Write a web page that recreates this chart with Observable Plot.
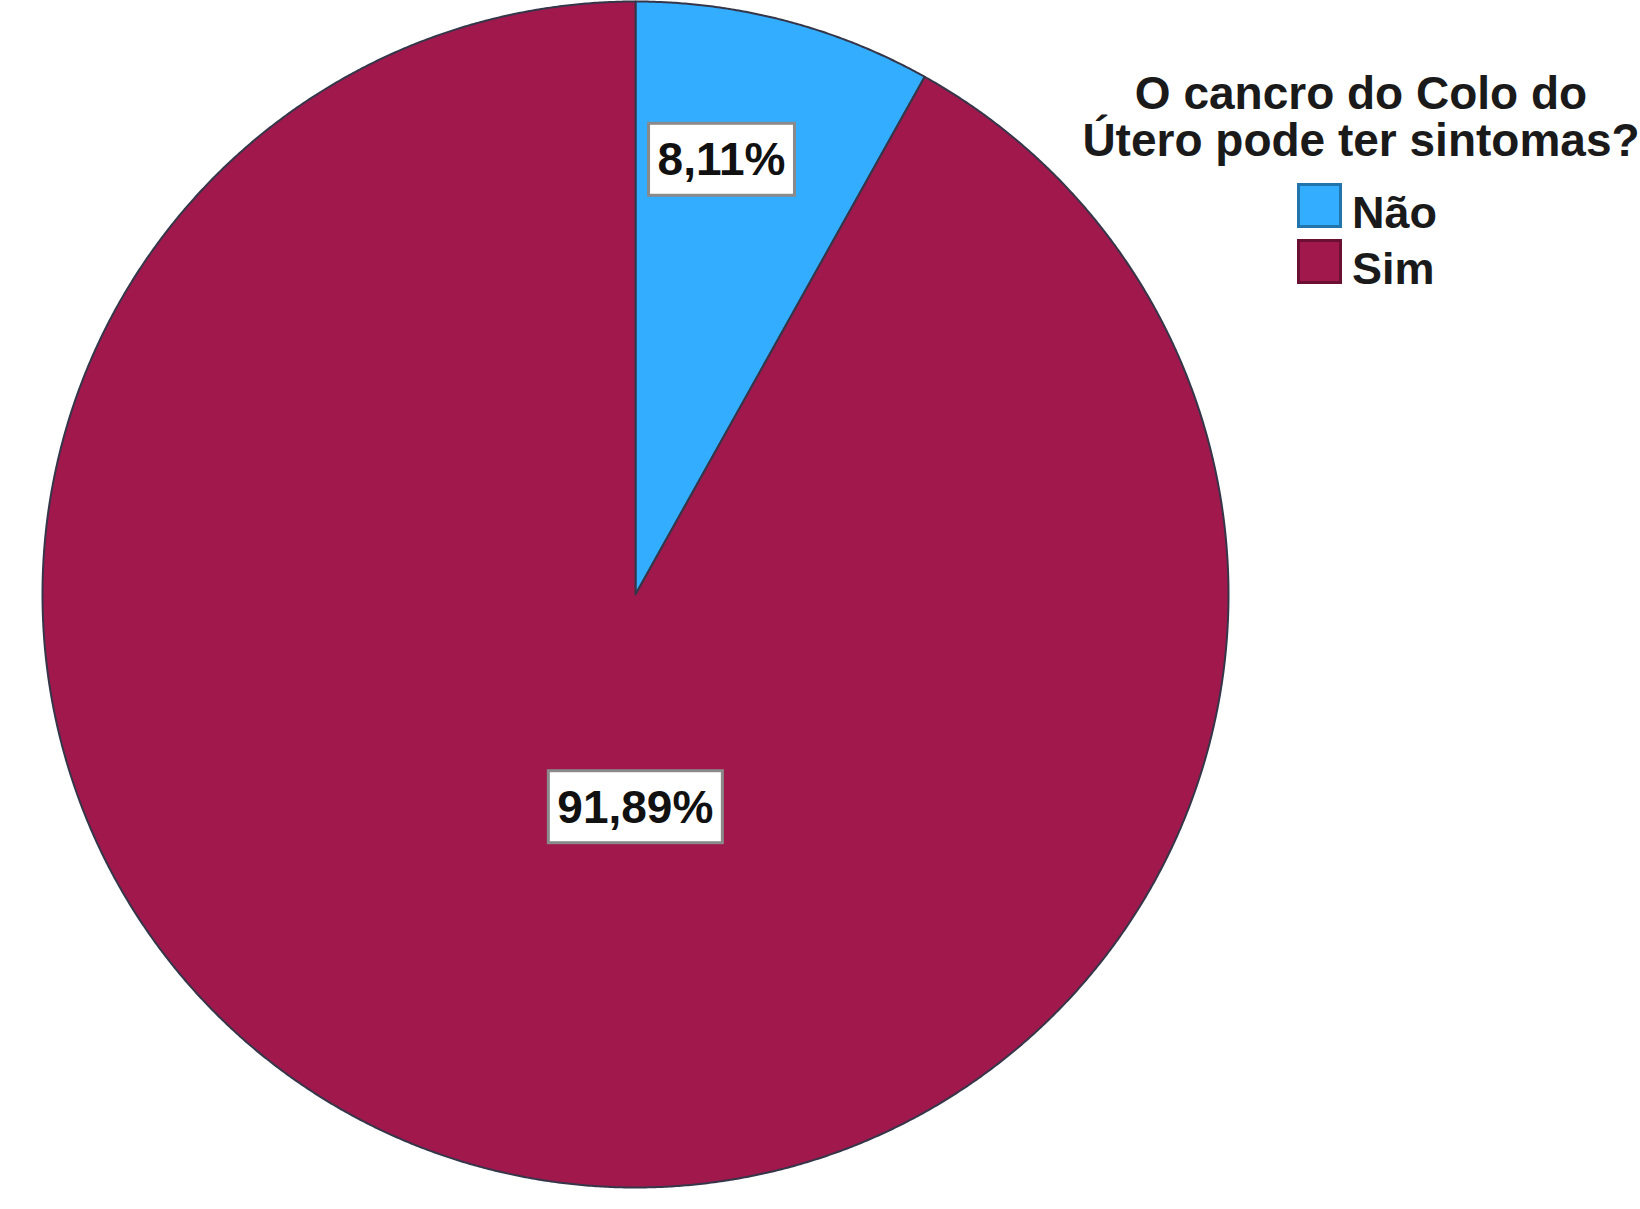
<!DOCTYPE html>
<html>
<head>
<meta charset="utf-8">
<script src="https://cdn.jsdelivr.net/npm/d3@7"></script>
<script src="https://cdn.jsdelivr.net/npm/@observablehq/plot@0.6"></script>
<style>
  html, body { margin: 0; padding: 0; background: #fff; overflow: hidden; width: 1640px; height: 1209px; }
  #wrap { position: relative; width: 1640px; height: 1209px; overflow: hidden; font-family: "Liberation Sans", Arial, sans-serif; }
  #wrap svg { position: absolute; left: 0; top: 0; }
  .legend-title-line { position: absolute; left: 1061px; width: 600px; height: 47px; text-align: center; font-weight: bold; font-size: 46px; line-height: 47px; white-space: nowrap; color: #1a1a1a; }
  .legend-item { position: absolute; left: 1297px; height: 50px; width: 300px; }
  .swatch { position: absolute; left: 0; top: 0; width: 45px; height: 45px; box-sizing: border-box; border: 3px solid; }
  .legend-label { position: absolute; left: 55px; top: 7px; font-weight: bold; font-size: 45px; line-height: 45px; white-space: nowrap; color: #1a1a1a; }
</style>
</head>
<body>
<div id="wrap"></div>
<script>
// ---- data ----
const categories = ["Não", "Sim"];
const percentages = [8.11, 91.89];
const colors = ["#33adff", "#a0184c"];
const legendTitle = ["O cancro do Colo do", "Útero pode ter sintomas?"];

// ---- layout (not data) ----
const W = 1640, H = 1209;
const pieCx = 635, pieCy = 594, pieR = 593;
// label placement inside each slice: fraction along the slice's angle span, and fraction of radius
const labelPlacement = [{along: 0.384, radius: 0.746}, {along: 0.456, radius: 0.36}];
const titleTop = 70, titleLineHeight = 47;
const legendTop = 183, legendPitch = 56;

const rows = categories.map((c, i) => ({category: c, value: percentages[i]}));
const arcs = d3.pie().sort(null).value(d => d.value)(rows);

const fmt = v => d3.format(".2f")(v).replace(".", ",") + "%";

// slice outlines built from the pie angles
const slicePoints = [];
arcs.forEach(a => {
  const cat = a.data.category;
  slicePoints.push({category: cat, x: 0, y: 0});
  const n = Math.max(4, Math.ceil((a.endAngle - a.startAngle) / 0.004));
  for (let k = 0; k <= n; k++) {
    const t = a.startAngle + (a.endAngle - a.startAngle) * k / n;
    slicePoints.push({category: cat, x: Math.sin(t), y: Math.cos(t)});
  }
  slicePoints.push({category: cat, x: 0, y: 0});
});

const labels = arcs.map((a, i) => {
  const p = labelPlacement[i];
  const t = a.startAngle + (a.endAngle - a.startAngle) * p.along;
  return {category: a.data.category, text: fmt(a.data.value), x: p.radius * Math.sin(t), y: p.radius * Math.cos(t)};
});

const svg = Plot.plot({
  width: W,
  height: H,
  margin: 0,
  style: {background: "white", overflow: "hidden"},
  x: {domain: [-1, 1], range: [pieCx - pieR, pieCx + pieR], axis: null},
  y: {domain: [-1, 1], range: [pieCy + pieR, pieCy - pieR], axis: null},
  color: {domain: categories, range: colors},
  marks: [
    Plot.line(slicePoints, {x: "x", y: "y", z: "category", fill: "category", stroke: "#36364a", strokeWidth: 2, strokeLinejoin: "round"}),
    Plot.text(labels, {x: "x", y: "y", text: "text", fill: "#111", fontSize: 46, fontWeight: "bold", fontFamily: "'Liberation Sans', Arial, sans-serif"})
  ]
});

const wrap = document.getElementById("wrap");
wrap.appendChild(svg);

// white boxes behind the percentage labels, sized from the rendered text
svg.querySelectorAll('g[aria-label="text"] text').forEach(t => {
  const bb = t.getBBox();
  const padX = 9, padY = 10;
  const r = document.createElementNS("http://www.w3.org/2000/svg", "rect");
  r.setAttribute("x", bb.x - padX);
  r.setAttribute("y", bb.y - padY);
  r.setAttribute("width", bb.width + 2 * padX);
  r.setAttribute("height", bb.height + 2 * padY);
  r.setAttribute("fill", "white");
  r.setAttribute("stroke", "#8a8a8a");
  r.setAttribute("stroke-width", 3);
  const tr = t.getAttribute("transform");
  if (tr) r.setAttribute("transform", tr);
  t.parentNode.insertBefore(r, t);
});

// legend
legendTitle.forEach((line, i) => {
  const d = document.createElement("div");
  d.className = "legend-title-line";
  d.style.top = (titleTop + i * titleLineHeight) + "px";
  d.textContent = line;
  wrap.appendChild(d);
});

categories.forEach((c, i) => {
  const item = document.createElement("div");
  item.className = "legend-item";
  item.style.top = (legendTop + i * legendPitch) + "px";
  const sw = document.createElement("div");
  sw.className = "swatch";
  sw.style.background = colors[i];
  sw.style.borderColor = d3.color(colors[i]).darker(1.1).formatHex();
  const lab = document.createElement("div");
  lab.className = "legend-label";
  lab.textContent = c;
  item.appendChild(sw);
  item.appendChild(lab);
  wrap.appendChild(item);
});
</script>
</body>
</html>
